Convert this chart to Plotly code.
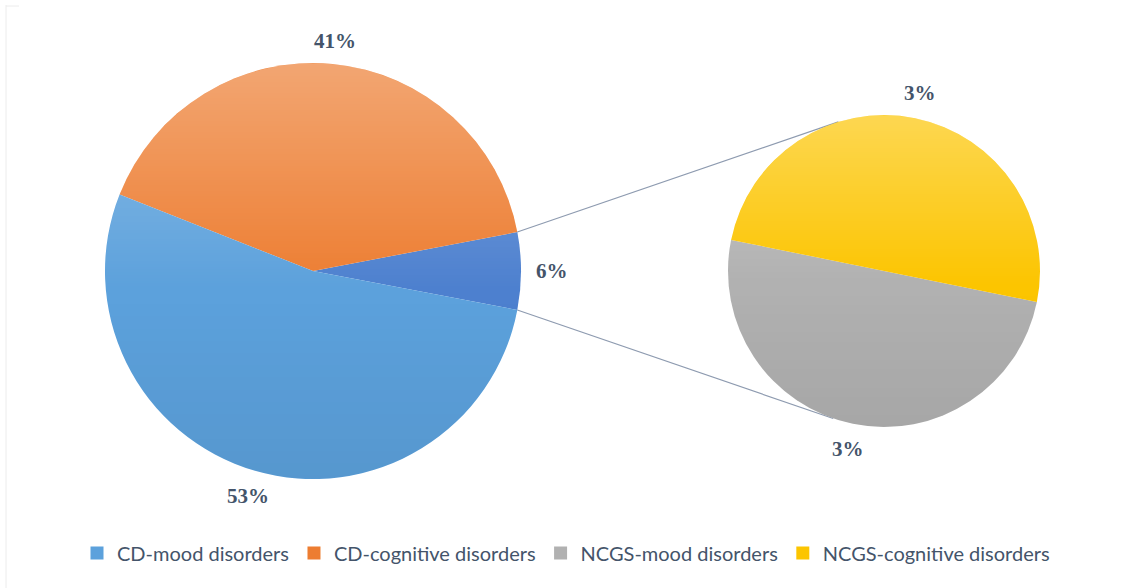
import base64
import math
import struct
import zlib

import numpy as np
import plotly.graph_objects as go

# Share of patients by condition and symptom group (%)
cd_labels = ["CD-mood disorders", "CD-cognitive disorders"]
cd_values = [53, 41]
ncgs_labels = ["NCGS-mood disorders", "NCGS-cognitive disorders"]
ncgs_values = [3, 3]

cd_colors = ["#5ca1dc", "#ed7d31"]
ncgs_colors = ["#b1b1b1", "#fcc500"]
split_color = "#4d80cf"

W, H = 1132, 588
TEXT_COLOR = "#44546a"
LABEL_FONT = dict(family="Liberation Serif", size=21, color=TEXT_COLOR, weight="bold")

# the NCGS slices are merged into one wedge of the main pie and broken out on the right
other_total = sum(ncgs_values)
main_values = [other_total, cd_values[1], cd_values[0]]
main_colors = [split_color, cd_colors[1], cd_colors[0]]
main_names = ["NCGS", cd_labels[1], cd_labels[0]]
other_sweep = other_total / sum(main_values) * 360.0
main_rotation = 90 - other_sweep / 2          # merged wedge centred on 3 o'clock

side_values = list(ncgs_values)
side_colors = list(ncgs_colors)
side_tilt = 11.5
side_rotation = 90 + side_tilt

# pie placement in pixels: (centre x, centre y, radius)
main_c = (313, 271, 208)
side_c = (884, 271, 156)


def domain(c):
    cx, cy, r = c
    return dict(x=[(cx - r) / W, (cx + r) / W], y=[(H - cy - r) / H, (H - cy + r) / H])


def mid_angles(values, rotation):
    """Mid angle of each slice (degrees, counter-clockwise from 3 o'clock)
    for a counter-clockwise plotly pie with the given rotation."""
    total = float(sum(values))
    sweeps = [v / total * 360.0 for v in values]
    start = 90.0 - rotation
    mids = [start - sweeps[0] / 2]
    acc = start
    for s in sweeps[1:]:
        mids.append(acc + s / 2)
        acc += s
    return mids


def gradient_png(r):
    """Circular RGBA overlay: light tint at the top fading to a slight shade at the bottom."""
    n = 2 * r
    yy, xx = np.mgrid[0:n, 0:n] + 0.5
    d = np.hypot(xx - r, yy - r)
    mask = np.clip(r + 0.3 - d, 0, 1)
    t = yy / n
    white_a = np.clip(0.32 * (0.55 - t) / 0.55, 0, None)
    black_a = np.clip(0.06 * (t - 0.55) / 0.45, 0, None)
    rgb = np.where((t < 0.55)[..., None], 255, 0) * np.ones((n, n, 3))
    alpha = (white_a + black_a) * mask
    img = np.dstack([rgb, alpha * 255]).astype(np.uint8)
    raw = b"".join(b"\x00" + img[i].tobytes() for i in range(n))

    def chunk(tag, data):
        return (struct.pack(">I", len(data)) + tag + data
                + struct.pack(">I", zlib.crc32(tag + data) & 0xFFFFFFFF))

    png = (b"\x89PNG\r\n\x1a\n"
           + chunk(b"IHDR", struct.pack(">IIBBBBB", n, n, 8, 6, 0, 0, 0))
           + chunk(b"IDAT", zlib.compress(raw, 9))
           + chunk(b"IEND", b""))
    return "data:image/png;base64," + base64.b64encode(png).decode()


fig = go.Figure()

fig.add_trace(go.Pie(
    values=main_values,
    labels=main_names,
    sort=False,
    direction="counterclockwise",
    rotation=main_rotation,
    marker=dict(colors=main_colors, line=dict(width=0)),
    textinfo="none",
    hoverinfo="label+value",
    showlegend=False,
    domain=domain(main_c),
))

fig.add_trace(go.Pie(
    values=side_values,
    labels=ncgs_labels,
    sort=False,
    direction="counterclockwise",
    rotation=side_rotation,
    marker=dict(colors=side_colors, line=dict(width=0)),
    textinfo="none",
    hoverinfo="label+value",
    showlegend=False,
    domain=domain(side_c),
))

# legend entries (square swatches), one per category
for name, color in zip(cd_labels + ncgs_labels, cd_colors + ncgs_colors):
    fig.add_trace(go.Scatter(
        x=[None], y=[None], mode="markers", name=name,
        marker=dict(symbol="square", size=13, color=color),
        showlegend=True, hoverinfo="skip",
    ))


def to_paper(px, py):
    return px / W, (H - py) / H


# percentage labels placed just outside each slice, at its mid angle
annotations = []
LABEL_GAP = 11
HALF_W, HALF_H = 20, 10.5
for values, rotation, c in ((main_values, main_rotation, main_c),
                            (side_values, side_rotation, side_c)):
    cx, cy, r = c
    for v, a in zip(values, mid_angles(values, rotation)):
        th = math.radians(a)
        dist = r + LABEL_GAP + abs(math.cos(th)) * HALF_W + abs(math.sin(th)) * HALF_H
        x, y = to_paper(cx + dist * math.cos(th), cy - dist * math.sin(th))
        annotations.append(dict(
            x=x, y=y, xref="paper", yref="paper", text=f"{v}%",
            showarrow=False, font=LABEL_FONT, xanchor="center", yanchor="middle",
        ))

# connector lines from the edges of the merged wedge to the secondary pie
half = math.radians(other_sweep / 2)
mcx, mcy, mr = main_c
scx, scy, sr = side_c
start_pts = [(mcx + mr * math.cos(half), mcy - mr * math.sin(half)),
             (mcx + mr * math.cos(half), mcy + mr * math.sin(half))]
end_angles = [math.radians(107), math.radians(-109)]
end_pts = [(scx + sr * math.cos(a), scy - sr * math.sin(a)) for a in end_angles]

shapes = []
for (x0, y0), (x1, y1) in zip(start_pts, end_pts):
    px0, py0 = to_paper(x0, y0)
    px1, py1 = to_paper(x1, y1)
    shapes.append(dict(type="line", xref="paper", yref="paper",
                       x0=px0, y0=py0, x1=px1, y1=py1,
                       line=dict(color="#8e9bb0", width=1.2), layer="below"))

# faint frame edge on the left
shapes.append(dict(type="line", xref="paper", yref="paper",
                   x0=6 / W, y0=0, x1=6 / W, y1=(H - 5) / H,
                   line=dict(color="#ececec", width=1)))
shapes.append(dict(type="line", xref="paper", yref="paper",
                   x0=6 / W, y0=(H - 6) / H, x1=19 / W, y1=(H - 6) / H,
                   line=dict(color="#ececec", width=1)))

# soft vertical shading over both pies
images = []
for c in (main_c, side_c):
    cx, cy, r = c
    x0, y1 = to_paper(cx - r, cy - r)
    images.append(dict(source=gradient_png(r), xref="paper", yref="paper",
                       x=x0, y=y1, sizex=2 * r / W, sizey=2 * r / H,
                       xanchor="left", yanchor="top", sizing="stretch",
                       layer="above"))

fig.update_layout(
    width=W, height=H,
    margin=dict(l=0, r=0, t=0, b=0),
    paper_bgcolor="white",
    plot_bgcolor="white",
    xaxis=dict(visible=False),
    yaxis=dict(visible=False),
    shapes=shapes,
    annotations=annotations,
    images=images,
    legend=dict(
        orientation="h", x=0.5, xanchor="center", y=(H - 553) / H, yanchor="middle",
        font=dict(family="Lato", size=20, color=TEXT_COLOR),
        itemwidth=30, tracegroupgap=0,
    ),
)

fig.write_html("out.html")
